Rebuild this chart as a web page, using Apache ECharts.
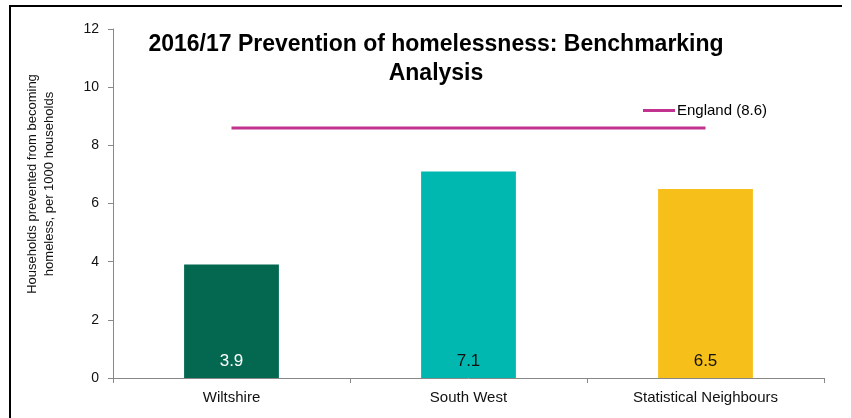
<!DOCTYPE html>
<html>
<head>
<meta charset="utf-8">
<script src="https://cdn.jsdelivr.net/npm/echarts@6/dist/echarts.min.js"></script>
<style>
  html, body { margin: 0; padding: 0; background: #fff; }
  #chart { width: 851px; height: 418px; }
</style>
</head>
<body>
<div id="chart"></div>
<script>
const categories = ['Wiltshire', 'South West', 'Statistical Neighbours']
const values = [3.9, 7.1, 6.5]
const barColors = ['#03684f', '#00b8b0', '#f7bf19']
const labelColors = ['#fff', '#111', '#111']
const englandValue = 8.6
const yTicks = { min: 0, max: 12, interval: 2 }

const chart = echarts.init(document.getElementById('chart'))
const font = 'Liberation Sans, Arial, sans-serif'

const option = {
  backgroundColor: '#fff',
  animation: false,
  textStyle: { fontFamily: font },
  title: {
    text: '2016/17 Prevention of homelessness: Benchmarking\nAnalysis',
    left: 431,
    top: 25,
    textAlign: 'center',
    textStyle: { fontSize: 23, fontWeight: 'bold', color: '#000', lineHeight: 29, fontFamily: font }
  },
  legend: {
    data: ['England (' + englandValue + ')'],
    left: 638,
    top: 98,
    itemWidth: 32,
    itemHeight: 3,
    itemGap: 2,
    icon: 'rect',
    textStyle: { fontSize: 15, color: '#000', padding: [0, 0, 0, -3] }
  },
  grid: { left: 113, right: 27, top: 29, bottom: 40 },
  xAxis: {
    type: 'category',
    data: categories,
    axisLine: { lineStyle: { color: '#888', width: 1 } },
    axisTick: { show: true, length: 5, lineStyle: { color: '#888' } },
    axisLabel: { color: '#111', fontSize: 15, margin: 12 }
  },
  yAxis: {
    type: 'value',
    min: yTicks.min,
    max: yTicks.max,
    interval: yTicks.interval,
    axisLine: { show: true, lineStyle: { color: '#888' } },
    axisTick: { show: true, length: 5, lineStyle: { color: '#888' } },
    axisLabel: { color: '#111', fontSize: 14, margin: 14 },
    splitLine: { show: false }
  },
  series: [
    {
      type: 'bar',
      barWidth: '40%',
      data: values.map((v, i) => ({
        value: v,
        itemStyle: { color: barColors[i] },
        label: { color: labelColors[i] }
      })),
      label: {
        show: true,
        position: 'insideBottom',
        distance: 8,
        fontSize: 17
      }
    },
    {
      name: 'England (' + englandValue + ')',
      type: 'line',
      data: categories.map(() => englandValue),
      symbol: 'none',
      color: '#c1338f',
      lineStyle: { color: '#c1338f', width: 3 }
    }
  ],
  graphic: [
    { type: 'rect', shape: { x: 9, y: 5, width: 833, height: 2 }, style: { fill: '#000' } },
    { type: 'rect', shape: { x: 9, y: 5, width: 2, height: 413 }, style: { fill: '#000' } },
    {
      type: 'text',
      x: 41,
      y: 184,
      rotation: Math.PI / 2,
      style: {
        text: 'Households prevented from becoming\nhomeless, per 1000 households',
        fontSize: 13,
        lineHeight: 17,
        fontFamily: font,
        fill: '#111',
        align: 'center',
        verticalAlign: 'middle'
      }
    }
  ]
}

chart.setOption(option)
</script>
</body>
</html>
